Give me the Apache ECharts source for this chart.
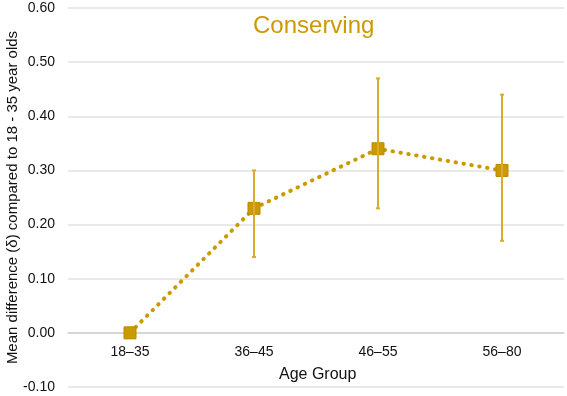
<!DOCTYPE html>
<html>
<head>
<meta charset="utf-8">
<script src="https://cdn.jsdelivr.net/npm/echarts@6/dist/echarts.min.js"></script>
<style>
  html, body { margin: 0; padding: 0; background: #fff; }
  #chart { width: 567px; height: 396px; }
</style>
</head>
<body>
<div id="chart"></div>
<script>
// 年龄组及均值差
const ageGroups = ['18–35', '36–45', '46–55', '56–80']
const meanDiff = [0.00, 0.23, 0.34, 0.30]
const errLow = [null, 0.14, 0.23, 0.17]
const errHigh = [null, 0.30, 0.47, 0.44]
const yTicks = { min: -0.1, max: 0.6, step: 0.1 }

const gold = '#CC9900'
const barGold = '#DCAA30'
const font = 'Liberation Sans, Helvetica, Arial, sans-serif'

const errData = ageGroups.map((g, i) => [i, errLow[i], errHigh[i]]).filter(d => d[1] != null)

const chart = echarts.init(document.getElementById('chart'))

const option = {
  animation: false,
  title: {
    text: 'Conserving',
    left: 248,
    top: 9,
    textStyle: { color: gold, fontFamily: font, fontSize: 24, fontWeight: 'normal' }
  },
  // x 轴名称放在刻度标签下方
  graphic: [
    {
      type: 'text',
      left: 279,
      top: 367,
      style: { text: 'Age Group', fill: '#111', font: '16px ' + font }
    }
  ],
  grid: { left: 68, right: 3, top: 8, bottom: 9, outerBoundsMode: 'none' },
  xAxis: {
    type: 'category',
    data: ageGroups,
    // 轴线移到 0.00 处
    offset: -54,
    axisLine: { onZero: false, lineStyle: { color: '#d0d0d0', width: 1.5 } },
    axisTick: { show: false },
    axisLabel: { interval: 0, color: '#111', fontFamily: font, fontSize: 14, margin: 12 }
  },
  yAxis: {
    type: 'value',
    min: yTicks.min,
    max: yTicks.max,
    interval: yTicks.step,
    name: 'Mean difference (\u03B4) compared to 18 - 35 year olds',
    nameLocation: 'middle',
    nameGap: 48,
    nameMoveOverlap: false,
    nameTextStyle: { color: '#111', fontFamily: font, fontSize: 15 },
    axisLine: { show: false },
    axisTick: { show: false },
    axisLabel: {
      color: '#111', fontFamily: font, fontSize: 14, margin: 13,
      formatter: v => v.toFixed(2)
    },
    splitLine: { lineStyle: { color: '#e2e2e2', width: 1.5 } }
  },
  series: [
    {
      name: 'mean',
      type: 'line',
      data: meanDiff,
      symbol: 'rect',
      symbolSize: 12,
      itemStyle: { color: gold, borderColor: '#B88A00', borderWidth: 1 },
      lineStyle: { color: gold, width: 4, type: [0.5, 7.5], cap: 'round' },
      z: 2
    },
    {
      name: 'error',
      type: 'custom',
      data: errData,
      z: 3,
      renderItem: (params, api) => {
        const x = api.value(0)
        const lo = api.coord([x, api.value(1)])
        const hi = api.coord([x, api.value(2)])
        const style = { stroke: barGold, lineWidth: 2 }
        return {
          type: 'group',
          children: [
            { type: 'line', shape: { x1: lo[0], y1: lo[1], x2: hi[0], y2: hi[1] }, style },
            { type: 'line', shape: { x1: lo[0] - 2, y1: lo[1], x2: lo[0] + 2, y2: lo[1] }, style },
            { type: 'line', shape: { x1: hi[0] - 2, y1: hi[1], x2: hi[0] + 2, y2: hi[1] }, style }
          ]
        }
      }
    }
  ]
}

chart.setOption(option)
</script>
</body>
</html>
